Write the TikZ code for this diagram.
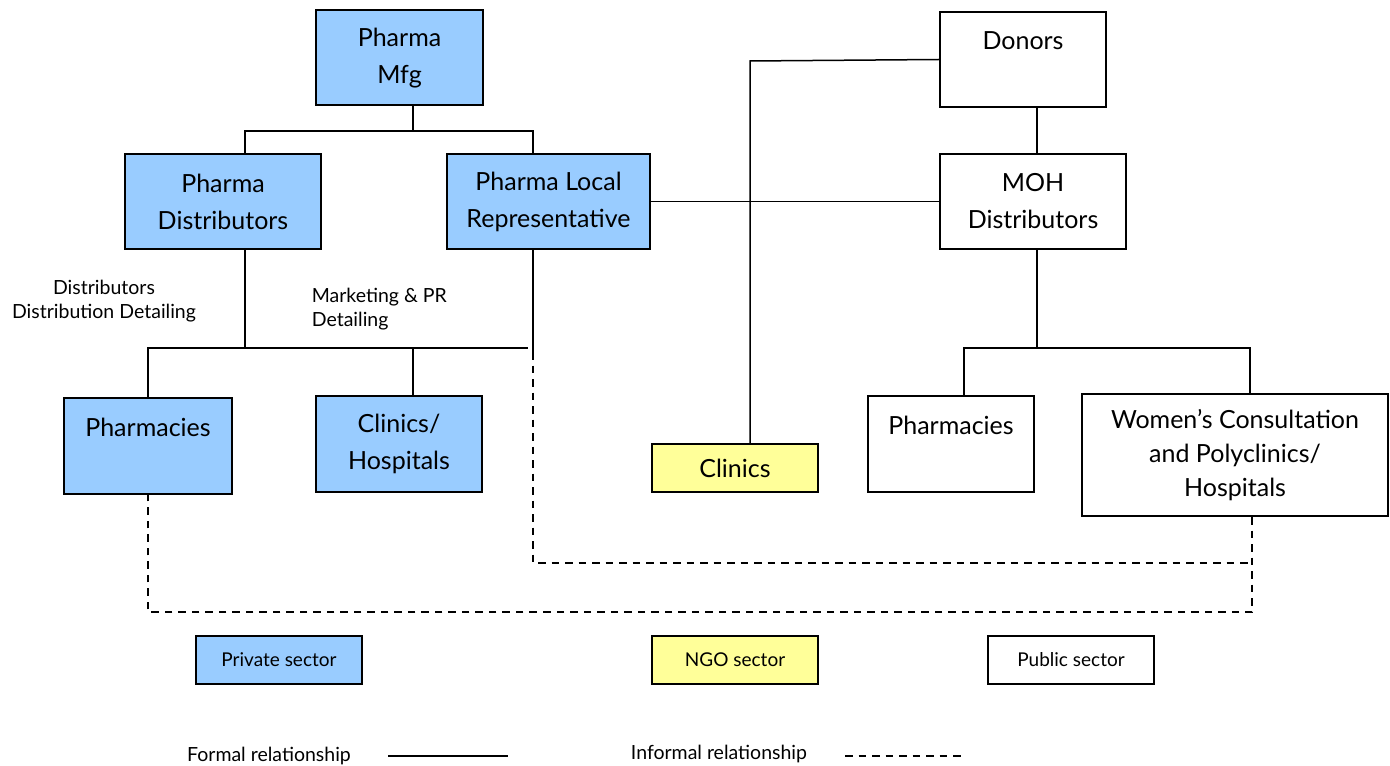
\documentclass[tikz,border=0pt]{standalone}
\usepackage{fontspec}
\setmainfont{Lato}
\usepackage{xcolor}
\usetikzlibrary{positioning}
\definecolor{privblue}{HTML}{99CCFF}
\definecolor{ngoyellow}{HTML}{FFFF99}
\definecolor{pubwhite}{HTML}{FFFFFF}

\begin{document}
\begin{tikzpicture}[
  x=0.4pt, y=-0.4pt,
  orgbox/.style={rectangle, draw=black, fill=#1, thick, inner sep=0pt, align=center, font=\fontsize{10}{14.8}\selectfont},
  keybox/.style={rectangle, draw=black, fill=#1, thick, inner sep=0pt, minimum width=66.4pt, minimum height=19.2pt, font=\fontsize{7.6}{9}\selectfont},
  link/.style={semithick},
  informal/.style={semithick, dash pattern=on 3pt off 2.4pt},
  note/.style={font=\fontsize{7.8}{9.8}\selectfont},
]
\useasboundingbox (0,0) rectangle (1390,765);

% Private sector
\node[orgbox=privblue, minimum width=66.8pt, minimum height=38pt] (mfg) at (399.5, 58) {Pharma\\Mfg};
\node[orgbox=privblue, minimum width=78.4pt, minimum height=38pt] (dist) at (223, 201.5) {Pharma\\Distributors};
\node[orgbox=privblue, minimum width=81.2pt, minimum height=38pt] (rep) at (548.5, 201.5) {Pharma Local\\Representative};
\node[orgbox=privblue, minimum width=67.2pt, minimum height=38.4pt] (pharmpriv) at (148, 446) {Pharmacies\\~};
\node[orgbox=privblue, minimum width=66.4pt, minimum height=38.4pt] (clinhosp) at (399, 444) {Clinics/\\Hospitals};

% NGO sector
\node[orgbox=ngoyellow, minimum width=66.4pt, minimum height=19.2pt] (clinics) at (735, 468) {Clinics};

% Public sector
\node[orgbox=pubwhite, minimum width=66.4pt, minimum height=38pt] (donors) at (1023, 59.5) {Donors\\~};
\node[orgbox=pubwhite, minimum width=74.4pt, minimum height=38pt] (moh) at (1033, 201.5) {MOH\\Distributors};
\node[orgbox=pubwhite, minimum width=66.4pt, minimum height=38.4pt] (pharmpub) at (951, 444) {Pharmacies\\~};
\node[orgbox=pubwhite, minimum width=122.4pt, minimum height=48.8pt, font=\fontsize{10}{13.6}\selectfont] (women) at (1235, 455) {Women's Consultation\\and Polyclinics/\\Hospitals};

% Detailing labels
\node[note, align=center] (distnote) at (104, 301) {Distributors\\Distribution Detailing};
\node[note, align=left, anchor=west] (mktnote) at (303, 309) {Marketing \& PR\\Detailing};

% Junction points
\coordinate (mfgj) at (413, 131);
\coordinate (distj) at (245, 131);
\coordinate (repj) at (533, 131);
\coordinate (distb) at (245, 348);
\coordinate (pharmj) at (148, 348);
\coordinate (hospj) at (413, 348);
\coordinate (privend) at (528, 348);
\coordinate (repb) at (533, 352);
\coordinate (inf1) at (533, 563);
\coordinate (wj) at (1252, 612);
\coordinate (ngoj) at (750, 61);
\coordinate (pubj) at (1037, 348);
\coordinate (publ) at (964, 348);
\coordinate (pubr) at (1250, 348);

% Formal links
\draw[link] (mfgj |- mfg.south) -- (mfgj);
\draw[link] (distj |- dist.north) -- (distj) -- (repj) -- (repj |- rep.north);
\draw[link] (distb |- dist.south) -- (distb);
\draw[link] (pharmj |- pharmpriv.north) -- (pharmj) -- (privend);
\draw[link] (hospj) -- (hospj |- clinhosp.north);
\draw[link] (repb |- rep.south) -- (repb);
\draw[link] (rep) -- (moh);
\draw[link] (donors.west) -- (ngoj) -- (ngoj |- clinics.north);
\draw[link] (pubj |- donors.south) -- (pubj |- moh.north);
\draw[link] (pubj |- moh.south) -- (pubj);
\draw[link] (publ |- pharmpub.north) -- (publ) -- (pubr) -- (pubr |- women.north);

% Informal links
\draw[informal] (repb) -- (inf1) -- (inf1 -| wj);
\draw[informal] (wj |- women.south) -- (wj) -- (wj -| pharmj) -- (pharmj |- pharmpriv.south);

% Sector key
\node[keybox=privblue] (keypriv) at (279, 660) {Private sector};
\node[keybox=ngoyellow] (keyngo) at (735, 660) {NGO sector};
\node[keybox=pubwhite] (keypub) at (1071, 660) {Public sector};

% Relationship key
\node[note] (formal) at (269, 756) {Formal relationship};
\coordinate (formalA) at (388, 756);
\coordinate (formalB) at (508, 756);
\draw[link] (formalA) -- (formalB);
\node[note] (informalkey) at (719, 754) {Informal relationship};
\coordinate (informalA) at (845, 756);
\coordinate (informalB) at (965, 756);
\draw[informal] (informalA) -- (informalB);

\end{tikzpicture}
\end{document}
